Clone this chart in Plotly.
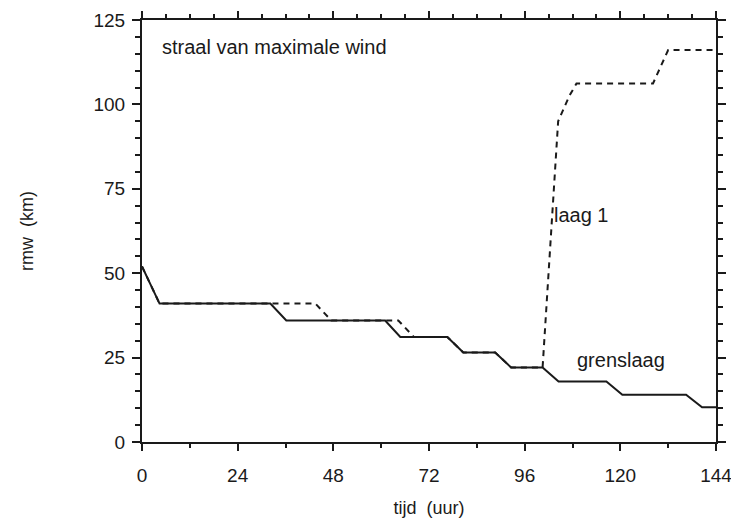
import plotly.graph_objects as go

# grenslaag (solid)
grens_t = [0, 4.4, 32.2, 36.2, 61.0, 64.8, 76.6, 80.6, 88.6, 92.6, 100.5, 104.5, 116.5, 120.5, 136.5, 140.5, 144]
grens_r = [52, 41, 41, 36, 36, 31.1, 31.1, 26.5, 26.5, 22.1, 22.1, 17.9, 17.9, 14.0, 14.0, 10.3, 10.3]

# laag 1 (dashed)
laag1_t = [0, 4.4, 43.5, 47.5, 64.3, 68.2, 76.6, 80.6, 88.6, 92.6, 100.5, 102.5, 104.4, 107.2, 109.0, 128.2, 132.0, 144]
laag1_r = [52, 41, 41, 36, 36, 31.1, 31.1, 26.5, 26.5, 22.1, 22.1, 60, 95, 102.5, 106.2, 106.2, 116.1, 116.1]

x_ticks = [0, 24, 48, 72, 96, 120, 144]
y_ticks = [0, 25, 50, 75, 100, 125]

ink = "#1a1a1a"
font = "Liberation Sans, Arial, sans-serif"

fig = go.Figure()
fig.add_trace(go.Scatter(x=grens_t, y=grens_r, mode="lines",
                         line=dict(color=ink, width=2), showlegend=False))
fig.add_trace(go.Scatter(x=laag1_t, y=laag1_r, mode="lines",
                         line=dict(color=ink, width=2, dash="6px,5px"), showlegend=False))
# invisible trace to activate top axis
fig.add_trace(go.Scatter(x=[0, 144], y=[0, 0], xaxis="x2", mode="lines",
                         line=dict(width=0), hoverinfo="skip", showlegend=False))

fig.add_annotation(x=4.6, y=117, text="straal van maximale wind", showarrow=False,
                   xanchor="left", yanchor="middle", font=dict(size=20, color=ink, family=font))
fig.add_annotation(x=102.8, y=67.2, text="laag 1", showarrow=False,
                   xanchor="left", yanchor="middle", font=dict(size=20, color=ink, family=font))
fig.add_annotation(x=108.6, y=24.2, text="grenslaag", showarrow=False,
                   xanchor="left", yanchor="middle", font=dict(size=20, color=ink, family=font))

fig.update_layout(
    width=739, height=524,
    margin=dict(l=134, r=31, t=12, b=90),
    paper_bgcolor="white", plot_bgcolor="white",
    font=dict(family=font, color=ink, size=19),
    xaxis=dict(range=[0, 144], tickvals=x_ticks, ticktext=[str(v) for v in x_ticks],
               automargin=False, ticklabelstandoff=8,
               showgrid=False, zeroline=False, showline=True, linecolor=ink, linewidth=2,
               ticks="outside", ticklen=7, tickwidth=1.5, tickcolor=ink,
               minor=dict(dtick=12, ticks="outside", ticklen=4, tickcolor=ink),
               title=dict(text="tijd  (uur)", font=dict(size=18), standoff=17),
               tickfont=dict(size=19)),
    xaxis2=dict(range=[0, 144], overlaying="x", side="top", showgrid=False, zeroline=False,
                automargin=False,
                showline=True, linecolor=ink, linewidth=2, showticklabels=False,
                ticks="outside", dtick=24, tick0=0, ticklen=7, tickwidth=1.5, tickcolor=ink,
                minor=dict(dtick=6, ticks="outside", ticklen=4, tickcolor=ink)),
    yaxis=dict(range=[0, 125], tickvals=y_ticks, ticktext=[str(v) for v in y_ticks],
               automargin=False, ticklabelstandoff=3,
               showgrid=False, zeroline=False, showline=True, linecolor=ink, linewidth=2,
               mirror="ticks", ticks="outside", ticklen=8, tickwidth=1.5, tickcolor=ink,
               minor=dict(dtick=5, ticks="outside", ticklen=5, tickcolor=ink),
               title=dict(text="rmw  (km)", font=dict(size=18), standoff=55),
               tickfont=dict(size=19)),
)

fig.write_html("out.html")
